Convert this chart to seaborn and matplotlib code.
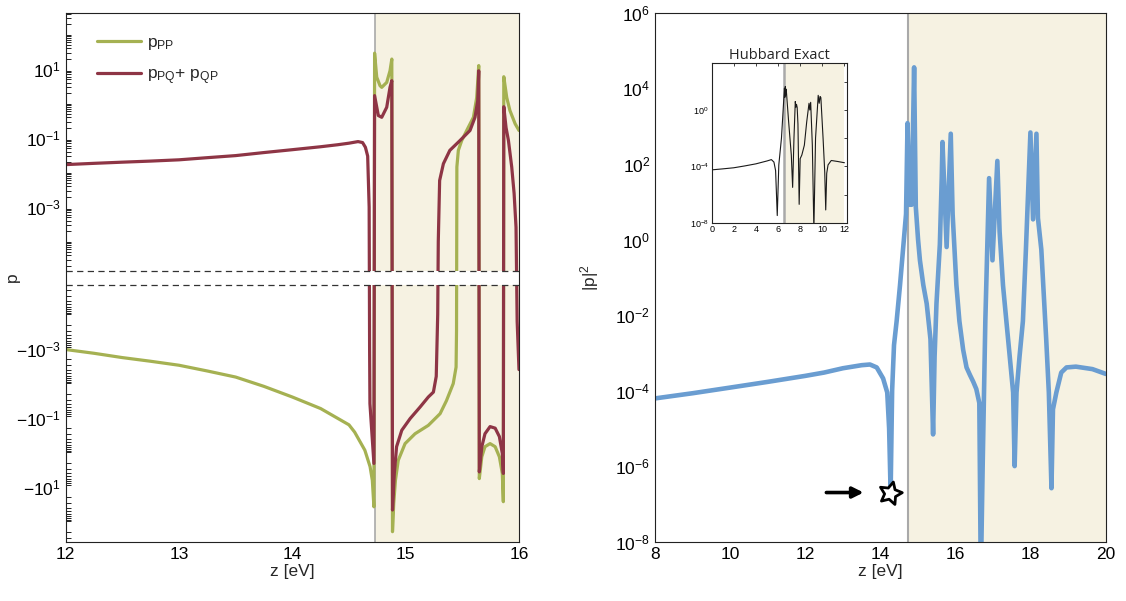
import math
import matplotlib
matplotlib.use("Agg")
import matplotlib.pyplot as plt
import matplotlib.ticker as mticker
from matplotlib.markers import MarkerStyle
from matplotlib.path import Path
from matplotlib.transforms import Affine2D
import seaborn as sns

# ---------------- left panel: p_PP and p_PQ + p_QP (signed log axis) ----------------
pp_z = [12, 12.25, 12.5, 12.75, 13, 13.25, 13.5, 13.75, 14, 14.25, 14.5, 14.55, 14.64,
        14.686, 14.706, 14.72, 14.726, 14.745, 14.774, 14.789, 14.833, 14.862, 14.878,
        14.884, 14.895, 14.91, 14.935, 14.995, 15.083, 15.2, 15.304, 15.36, 15.42,
        15.445, 15.449, 15.451, 15.452, 15.465, 15.495, 15.539, 15.598, 15.627, 15.645,
        15.65, 15.672, 15.70, 15.745, 15.79, 15.827, 15.853, 15.862, 15.866, 15.892,
        15.92, 15.966, 16.0]
pp_val = [-1.05e-3, -1.35e-3, -1.8e-3, -2.3e-3, -3.0e-3, -4.4e-3, -6.6e-3, -1.23e-2, -2.5e-2,
          -5.4e-2, -0.16, -0.26, -0.87,
          -2.6, -6.5, -38, 29, 5.8, 3.3, 2.95, 4.1, 8.9, 19.5,
          -200, -30, -6.5, -1.7, -0.56, -0.29, -0.166, -0.076, -0.032, -0.0102,
          -3.4e-3, -3.0e-4, 3.0e-4, 0.0145, 0.044, 0.085, 0.166, 0.40, 1.5, 12.6,
          -5.8, -1.35, -0.69, -0.56, -0.69, -1.35, -4.1, -27, 6.0, 1.5,
          0.63, 0.26, 0.166]

pq_z = [12, 12.25, 12.5, 12.75, 13, 13.25, 13.5, 13.75, 14, 14.25, 14.4, 14.5, 14.58, 14.62,
        14.645, 14.665, 14.678, 14.682, 14.685, 14.72, 14.726, 14.759, 14.789, 14.833, 14.862,
        14.878, 14.884, 14.90, 14.92, 14.966, 15.04, 15.127, 15.2, 15.245, 15.27,
        15.283, 15.288, 15.30, 15.333, 15.39, 15.48, 15.568, 15.612, 15.636, 15.645,
        15.65, 15.672, 15.70, 15.745, 15.79, 15.827, 15.853, 15.862, 15.866, 15.886,
        15.907, 15.936, 15.957, 15.974, 15.984, 16.0]
pq_val = [0.017, 0.0185, 0.020, 0.0215, 0.0234, 0.027, 0.031, 0.038, 0.046, 0.056, 0.064,
          0.071, 0.079, 0.074,
          0.054, 0.03, 1e-3, -1e-3, -0.039, -2.1, 1.7, 0.45, 0.40, 0.78, 2.95,
          4.6, -47, -4.1, -0.69, -0.23, -0.105, -0.049, -0.025, -0.018, -6.3e-3,
          -1.0e-4, 1.0e-4, 5.9e-3, 0.018, 0.044, 0.085, 0.166, 0.40, 1.2, 8.9,
          -3.7, -0.69, -0.29, -0.18, -0.20, -0.35, -1.07, -4.1, 0.81, 0.20,
          0.085, 0.0145, 2.5e-3, 2.6e-4, -1.6e-4, -4.0e-3]

# ---------------- right panel: |p|^2 ----------------
absp_z = [8, 9, 10, 11, 12, 12.5, 13, 13.5, 13.72, 13.9,
          14.07, 14.18, 14.23, 14.27, 14.31, 14.36, 14.43, 14.52, 14.6, 14.68, 14.72,
          14.775, 14.83, 14.895, 14.94, 15.0, 15.05, 15.14, 15.23, 15.33, 15.40,
          15.44, 15.49, 15.58, 15.63, 15.65, 15.76, 15.87, 15.92, 16.02, 16.1,
          16.2, 16.29, 16.38, 16.47, 16.55, 16.63, 16.67, 16.72, 16.79, 16.84,
          16.89, 16.98, 17.11, 17.17, 17.26, 17.35, 17.44, 17.53, 17.57, 17.62,
          17.7, 17.79, 17.87, 17.99, 18.06, 18.15, 18.19, 18.28, 18.41, 18.48,
          18.55, 18.59, 18.68, 18.81, 18.95, 19.2, 19.64, 20]
absp_val = [6.2e-5, 8.5e-5, 1.2e-4, 1.7e-4, 2.45e-4, 3.0e-4, 3.9e-4, 4.7e-4, 4.9e-4, 4.1e-4,
            2.1e-4, 8.9e-5, 1.0e-5, 2.0e-7, 1.0e-4, 1.6e-3, 6.9e-3, 6.2e-2, 0.54, 4.7, 1.2e3,
            8.3, 8.3, 3.6e4, 7.2, 1.0, 0.28, 6.2e-2, 2.0e-2, 2.3e-3, 6.9e-6,
            7.9e-4, 2.0e-2, 0.74, 42, 380, 0.63, 630, 4.7, 6.2e-2, 6.9e-3,
            1.2e-3, 4.1e-4, 2.6e-4, 1.7e-4, 1.1e-4, 4.7e-5, 1e-9, 1.1e-6, 6.9e-3, 0.54,
            42, 0.28, 120, 1.6, 6.2e-2, 6.9e-3, 7.9e-4, 8.9e-5, 1.0e-6, 8.9e-5,
            7.9e-4, 6.9e-3, 0.54, 680, 3.4, 630, 3.7, 0.54, 2.3e-3, 8.9e-5,
            2.6e-7, 3.2e-5, 8.9e-5, 3.0e-4, 4.1e-4, 4.3e-4, 3.7e-4, 2.75e-4]

# ---------------- inset: exact Hubbard result ----------------
exact_z = [0, 1, 2, 3, 4, 5, 5.4, 5.63, 5.78, 5.93,
           6.07, 6.31, 6.5, 6.58, 6.62, 6.66, 6.7, 6.74, 6.96, 7.2,
           7.32, 7.44, 7.56, 7.62, 7.67, 7.73, 7.8, 7.91, 8.0, 8.15,
           8.38, 8.59, 8.8, 8.87, 8.95, 9.1, 9.24, 9.39, 9.63, 9.72,
           9.8, 9.87, 10.07, 10.22, 10.31, 10.4, 10.52, 10.81, 11.4, 12]
exact_val = [5.6e-5, 6.6e-5, 7.9e-5, 1.07e-4, 1.5e-4, 2.4e-4, 3.0e-4, 2.0e-4, 5.0e-5, 3.2e-8,
             1.26e-4, 1e-2, 3.2, 35, 8, 47, 12, 30, 0.14, 6.3e-4,
             3.2e-6, 1e-2, 4, 1.6, 2.5, 1.5, 0.1, 2e-7, 3.5e-4, 6.3e-4,
             3.2e-3, 0.14, 3, 1, 3.5, 3.2e-3, 3e-9, 1e-2, 11, 3,
             9, 7.6, 1e-2, 4e-5, 8e-8, 3.2e-5, 1.26e-4, 2.6e-4, 2.2e-4, 1.8e-4]

# axis ticks / ranges
left_xticks = [12, 13, 14, 15, 16]
left_yticks = [-10, -0.1, -1e-3, 1e-3, 0.1, 10]
right_xticks = [8, 10, 12, 14, 16, 18, 20]
right_yticks = [1e-8, 1e-6, 1e-4, 1e-2, 1, 1e2, 1e4, 1e6]
inset_xticks = [0, 2, 4, 6, 8, 10, 12]
inset_yticks = [1e-8, 1e-4, 1]
inset_minor_yticks = [1e-6, 1e-2, 1e2]

continuum_edge = 14.73   # start of the shaded continuum
inset_edge = 6.52
star_z, star_val = 14.25, 2.0e-7
arrow_from, arrow_to = 12.56, 13.55

# symlog parameters of the split axis
linthresh = 1.4e-5
linscale = 0.18

# colours
green = "#A5B152"
red = "#8E3545"
blue = "#6A9DD1"
shade = "#F6F2E2"
edge_grey = "#A9A9A9"

sns.set_theme(style="white")
plt.rcParams["font.family"] = ["Liberation Sans", "DejaVu Sans"]
plt.rcParams["mathtext.fontset"] = "custom"
plt.rcParams["mathtext.rm"] = "Liberation Sans"
plt.rcParams["mathtext.it"] = "Liberation Sans:italic"
plt.rcParams["mathtext.bf"] = "Liberation Sans:bold"
plt.rcParams["mathtext.sf"] = "Liberation Sans"
plt.rcParams["axes.edgecolor"] = "#222222"
plt.rcParams["axes.linewidth"] = 0.8
plt.rcParams["xtick.color"] = "#222222"
plt.rcParams["ytick.color"] = "#222222"
plt.rcParams["xtick.labelcolor"] = "black"
plt.rcParams["ytick.labelcolor"] = "black"

fig = plt.figure(figsize=(11.26, 6.01), dpi=100)
axL = fig.add_axes([0.0583, 0.0987, 0.4026, 0.880])
axR = fig.add_axes([0.5817, 0.0987, 0.4005, 0.880])
axI = fig.add_axes([0.632, 0.6295, 0.1199, 0.266])

# ---------- left panel ----------
axL.axvspan(continuum_edge, 16, color=shade, zorder=0, lw=0)
axL.axvline(continuum_edge, color=edge_grey, lw=1.2, zorder=1)
sns.lineplot(x=pp_z, y=pp_val, ax=axL, sort=False, estimator=None, color=green,
             lw=2.3, label=r"p$_{\mathrm{PP}}$", zorder=2, solid_capstyle="round")
sns.lineplot(x=pq_z, y=pq_val, ax=axL, sort=False, estimator=None, color=red,
             lw=2.3, label=r"p$_{\mathrm{PQ}}$+ p$_{\mathrm{QP}}$", zorder=2.1,
             solid_capstyle="round")
axL.set_yscale("symlog", linthresh=linthresh, linscale=linscale)
axL.set_xlim(12, 16)
axL.set_ylim(-390, 427)

# break band around zero
axL.axhspan(-linthresh, linthresh, color="white", zorder=3, lw=0)
for yb in (-linthresh, linthresh):
    axL.axhline(yb, color="#333333", lw=0.9, ls=(0, (5, 3.5)), zorder=4)


def signed_decade(v, pos=None):
    e = int(round(math.log10(abs(v))))
    sign = "-" if v < 0 else ""
    return r"$\mathdefault{%s10^{%d}}$" % (sign, e)


axL.yaxis.set_major_locator(mticker.FixedLocator(left_yticks))
axL.yaxis.set_major_formatter(mticker.FuncFormatter(signed_decade))
minor = []
for e in range(-5, 3):
    for k in range(1, 10):
        v = k * 10.0 ** e
        if k == 1 and v in [abs(t) for t in left_yticks]:
            continue
        if linthresh < v < 427:
            minor.append(v)
        if linthresh < v < 390:
            minor.append(-v)
axL.yaxis.set_minor_locator(mticker.FixedLocator(minor))
axL.yaxis.set_minor_formatter(mticker.NullFormatter())
axL.set_xticks(left_xticks)
axL.tick_params(axis="both", which="major", direction="in", length=5, width=0.8,
                labelsize=12.5, top=False, right=False)
axL.tick_params(axis="y", which="minor", direction="in", length=3.5, width=0.7,
                left=True, right=False)
axL.set_xlabel("z [eV]", fontsize=12.5, labelpad=2)
axL.set_ylabel("p", fontsize=12.5)
axL.yaxis.set_label_coords(-0.1, 0.5)
axL.legend(loc="upper left", bbox_to_anchor=(0.035, 0.987), frameon=False,
           fontsize=12.5, handlelength=2.5, handletextpad=0.35, labelspacing=0.85)
for s in axL.spines.values():
    s.set_zorder(5)

# ---------- right panel ----------
axR.axvspan(continuum_edge, 20, color=shade, zorder=0, lw=0)
axR.axvline(continuum_edge, color=edge_grey, lw=1.5, zorder=1)
sns.lineplot(x=absp_z, y=absp_val, ax=axR, sort=False, estimator=None, color=blue,
             lw=3.3, zorder=2, solid_capstyle="round", solid_joinstyle="round")
axR.set_yscale("log")
axR.set_xlim(8, 20)
axR.set_ylim(1e-8, 1e6)
axR.yaxis.set_major_locator(mticker.FixedLocator(right_yticks))
axR.yaxis.set_minor_locator(mticker.NullLocator())
axR.yaxis.set_major_formatter(mticker.LogFormatterSciNotation())
axR.set_xticks(right_xticks)
axR.tick_params(axis="both", which="major", direction="in", length=5, width=0.8,
                labelsize=12.5, top=False, right=False)
axR.set_xlabel("z [eV]", fontsize=12.5, labelpad=2)
axR.set_ylabel(r"|p|$^{2}$", fontsize=12.5)
axR.yaxis.set_label_coords(-0.12, 0.5)

star_path = Path.unit_regular_star(5, innerCircle=0.5)
star = MarkerStyle(star_path, transform=Affine2D().rotate_deg(-14))
axR.plot([star_z], [star_val], marker=star, ms=17, mfc="white", mec="black",
         mew=2.0, ls="none", zorder=6)
axR.annotate("", xy=(arrow_to, star_val), xytext=(arrow_from, star_val),
             arrowprops=dict(arrowstyle="-|>", color="black", lw=2.6,
                             mutation_scale=16, shrinkA=0, shrinkB=0), zorder=6)

# ---------- inset ----------
axI.axvspan(inset_edge, 12, color=shade, zorder=0, lw=0)
axI.axvline(inset_edge, color=edge_grey, lw=1.8, zorder=1)
sns.lineplot(x=exact_z, y=exact_val, ax=axI, sort=False, estimator=None,
             color="#1a1a1a", lw=0.8, zorder=2)
axI.set_yscale("log")
axI.set_xlim(0, 12.2)
axI.set_ylim(1e-8, 10 ** 3.35)
axI.yaxis.set_major_locator(mticker.FixedLocator(inset_yticks))
axI.yaxis.set_minor_locator(mticker.FixedLocator(inset_minor_yticks))
axI.yaxis.set_major_formatter(mticker.LogFormatterSciNotation())
axI.yaxis.set_minor_formatter(mticker.NullFormatter())
axI.set_xticks(inset_xticks)
axI.tick_params(axis="both", which="both", direction="in", length=2.5, width=0.6,
                labelsize=6.5, top=True, right=True, pad=2)
axI.set_title("Hubbard Exact", fontsize=10.5, pad=3, family=["Open Sans", "DejaVu Sans"])
for s in axI.spines.values():
    s.set_linewidth(0.8)

fig.savefig("out.png", dpi=100)
